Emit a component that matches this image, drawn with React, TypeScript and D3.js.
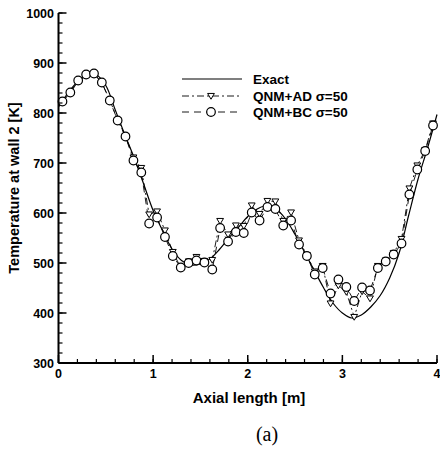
import React from "react";
import * as d3 from "d3";

const xTicks = [0, 1, 2, 3, 4];
const yTicks = [300, 400, 500, 600, 700, 800, 900, 1000];

const exactX = [0, 0.1, 0.2, 0.3, 0.4, 0.5, 0.6, 0.7, 0.8, 0.9, 1.0, 1.1, 1.2, 1.3, 1.4, 1.5, 1.6, 1.7, 1.8, 1.9, 2.0, 2.1, 2.2, 2.3, 2.4, 2.5, 2.6, 2.7, 2.8, 2.9, 3.0, 3.1, 3.2, 3.3, 3.4, 3.5, 3.6, 3.7, 3.8, 3.9, 4.0];
const exactY = [812, 840, 862, 875, 876, 855, 806, 757, 710, 658, 605, 565, 528, 505, 496, 498, 508, 527, 550, 571, 593, 608, 615, 608, 588, 557, 522, 486, 451, 420, 400, 390, 396, 412, 435, 470, 520, 595, 668, 730, 797];

const nodeX = [0.042, 0.125, 0.208, 0.292, 0.375, 0.458, 0.542, 0.625, 0.708, 0.792, 0.875, 0.958, 1.042, 1.125, 1.208, 1.292, 1.375, 1.458, 1.542, 1.625, 1.708, 1.792, 1.875, 1.958, 2.042, 2.125, 2.208, 2.292, 2.375, 2.458, 2.542, 2.625, 2.708, 2.792, 2.875, 2.958, 3.042, 3.125, 3.208, 3.292, 3.375, 3.458, 3.542, 3.625, 3.708, 3.792, 3.875, 3.958];
const bcY = [823, 841, 865, 877, 879, 861, 825, 785, 753, 705, 681, 579, 591, 552, 514, 491, 500, 505, 501, 487, 570, 543, 562, 560, 601, 585, 612, 608, 575, 585, 537, 514, 477, 490, 439, 467, 452, 424, 451, 445, 490, 503, 517, 539, 637, 687, 724, 775];
const adY = [823, 841, 863, 876, 878, 860, 826, 786, 754, 711, 690, 597, 603, 565, 522, 491, 503, 512, 504, 506, 584, 557, 575, 574, 615, 598, 624, 623, 584, 601, 545, 516, 483, 494, 419, 455, 442, 392, 443, 429, 494, 505, 520, 548, 649, 695, 726, 779];

const legendLabels = ["Exact", "QNM+AD \u03c3=50", "QNM+BC \u03c3=50"];

const W = 440;
const H = 449;
const x = d3.scaleLinear().domain([0, 4]).range([58.5, 437]);
const y = d3.scaleLinear().domain([300, 1000]).range([363, 13]);

const font = "'Liberation Sans', Arial, Helvetica, sans-serif";

export default function App() {
  const exactPts: [number, number][] = exactX.map((v, i) => [v, exactY[i]]);
  const exactPath = d3
    .line<[number, number]>()
    .x((d) => x(d[0]))
    .y((d) => y(d[1]))
    .curve(d3.curveCatmullRom.alpha(0.5))(exactPts) as string;
  const adPath = d3
    .line<number>()
    .x((_, i) => x(nodeX[i]))
    .y((d) => y(d))(adY) as string;
  const bcPath = d3
    .line<number>()
    .x((_, i) => x(nodeX[i]))
    .y((d) => y(d))(bcY) as string;

  const xMinor = d3.range(0, 4.0001, 0.2);
  const yMinor = d3.range(300, 1000.001, 20);
  const tri = (cx: number, cy: number, s = 3.4) =>
    `M${cx - s},${cy - s * 0.75}L${cx + s},${cy - s * 0.75}L${cx},${cy + s * 0.95}Z`;

  const lg = { x1: 182, x2: 242, mx: 211, tx: 253, ys: [79, 96, 112] };
  const R = 4.3;

  return (
    <svg width={W} height={H} style={{ position: "absolute", left: 0, top: 0, background: "#fff" }}>
      <rect x={0} y={0} width={W} height={H} fill="#fff" />
      {/* curves */}
      <path d={exactPath} fill="none" stroke="#000" strokeWidth={1.2} />
      <path d={adPath} fill="none" stroke="#000" strokeWidth={0.9} strokeDasharray="7,3,2,3" />
      <path d={bcPath} fill="none" stroke="#000" strokeWidth={0.9} strokeDasharray="7,5" />
      {adY.map((v, i) => (
        <path key={"t" + i} d={tri(x(nodeX[i]), y(v))} fill="#fff" stroke="#000" strokeWidth={1} />
      ))}
      {bcY.map((v, i) => (
        <circle key={"c" + i} cx={x(nodeX[i])} cy={y(v)} r={R} fill="#fff" stroke="#000" strokeWidth={1.2} />
      ))}

      {/* axes */}
      <line x1={x(0)} x2={x(4)} y1={y(300)} y2={y(300)} stroke="#000" strokeWidth={2} />
      <line x1={x(0)} x2={x(0)} y1={y(300)} y2={y(1000)} stroke="#000" strokeWidth={2} />
      {xMinor.map((v, i) => (
        <line key={"xm" + i} x1={x(v)} x2={x(v)} y1={y(300)} y2={y(300) - 4} stroke="#000" strokeWidth={1.2} />
      ))}
      {xTicks.map((v) => (
        <g key={"xt" + v}>
          <line x1={x(v)} x2={x(v)} y1={y(300)} y2={y(300) - 8} stroke="#000" strokeWidth={1.5} />
          <text x={x(v)} y={378} textAnchor="middle" fontFamily={font} fontWeight="bold" fontSize={12.5}>
            {v}
          </text>
        </g>
      ))}
      {yMinor.map((v, i) => (
        <line key={"ym" + i} x1={x(0)} x2={x(0) + 4} y1={y(v)} y2={y(v)} stroke="#000" strokeWidth={1.2} />
      ))}
      {yTicks.map((v) => (
        <g key={"yt" + v}>
          <line x1={x(0)} x2={x(0) + 8} y1={y(v)} y2={y(v)} stroke="#000" strokeWidth={1.5} />
          <text x={54} y={y(v) + 4.5} textAnchor="end" fontFamily={font} fontWeight="bold" fontSize={12.5}>
            {v}
          </text>
        </g>
      ))}

      {/* axis titles */}
      <text x={249} y={403} textAnchor="middle" fontFamily={font} fontWeight="bold" fontSize={15}>
        Axial length [m]
      </text>
      <text
        transform={`translate(19,${(y(300) + y(1000)) / 2}) rotate(-90)`}
        textAnchor="middle"
        fontFamily={font}
        fontWeight="bold"
        fontSize={14.5}
      >
        Temperature at wall 2 [K]
      </text>
      <text x={267} y={441} textAnchor="middle" fontFamily="'Liberation Serif', 'Times New Roman', serif" fontSize={20}>
        (a)
      </text>

      {/* legend */}
      <line x1={lg.x1} x2={lg.x2} y1={lg.ys[0]} y2={lg.ys[0]} stroke="#000" strokeWidth={1.1} />
      <line x1={lg.x1} x2={lg.x2} y1={lg.ys[1]} y2={lg.ys[1]} stroke="#000" strokeWidth={0.9} strokeDasharray="7,3,2,3" />
      <path d={tri(lg.mx, lg.ys[1])} fill="#fff" stroke="#000" strokeWidth={1} />
      <line x1={lg.x1} x2={lg.x2} y1={lg.ys[2]} y2={lg.ys[2]} stroke="#000" strokeWidth={0.9} strokeDasharray="7,5" />
      <circle cx={lg.mx} cy={lg.ys[2]} r={R} fill="#fff" stroke="#000" strokeWidth={1.2} />
      {legendLabels.map((t, i) => (
        <text key={t} x={lg.tx} y={lg.ys[i] + 5} fontFamily={font} fontWeight="bold" fontSize={13.5}>
          {t}
        </text>
      ))}
    </svg>
  );
}
